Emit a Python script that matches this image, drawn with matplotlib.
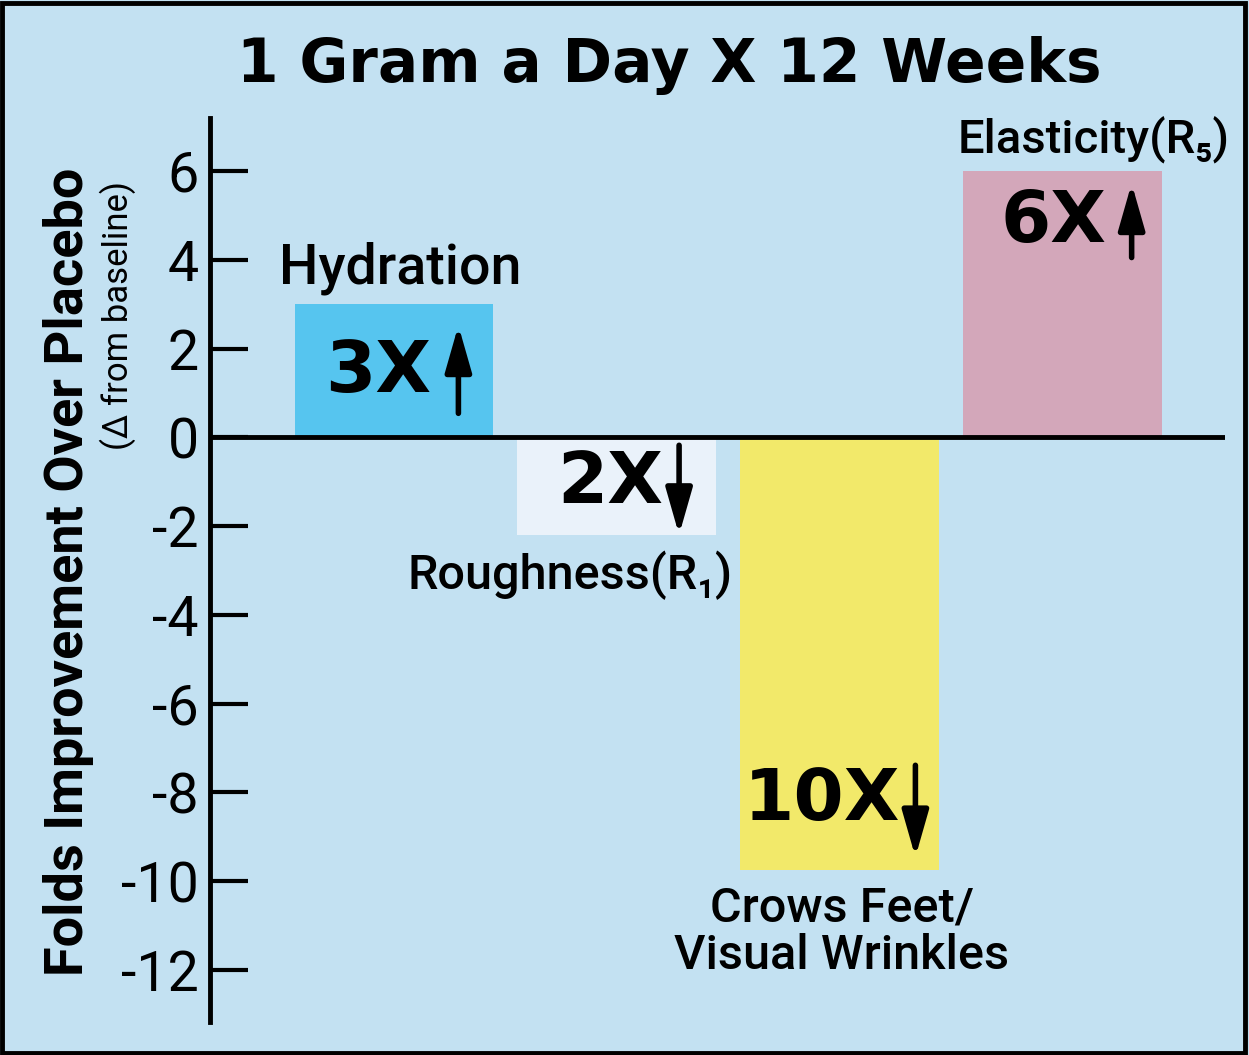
import matplotlib.pyplot as plt
from matplotlib.patches import Rectangle

# bar values
categories = ['Hydration', 'Roughness(R\u2081)', 'Crows Feet/\nVisual Wrinkles', 'Elasticity(R\u2085)']
values = [3.0, -2.2, -9.75, 6.0]
fold_labels = ['3X', '2X', '10X', '6X']
bar_colors = ['#56c5ef', '#eaf2fa', '#f2e96a', '#d3a7ba']
yticks = [6, 4, 2, 0, -2, -4, -6, -8, -10, -12]

# label placement (data coords)
fold_pos = [(-0.07, 1.46), (0.97, -1.04), (1.92, -8.18), (2.96, 4.84)]
arrow_x = [0.29, 1.28, 2.34, 3.31]
arrow_y = [(0.54, 2.52), (-0.18, -2.2), (-7.39, -9.46), (4.05, 5.72)]
cat_pos = [(0.03, 3.8), (0.79, -3.1), (2.01, -11.15), (3.14, 6.7)]
cat_sizes = [40, 35, 35, 34]

bg = '#c3e1f2'
plt.rcParams['font.family'] = ['Roboto', 'DejaVu Sans']

fig = plt.figure(figsize=(12.49, 10.55), dpi=100, facecolor=bg)
ax = fig.add_axes([0.168, 0.031, 0.813, 0.857])
ax.set_facecolor(bg)

x = range(len(values))
ax.bar(x, values, width=0.89, color=bar_colors, zorder=2)
ax.axhline(0, color='black', lw=3.5, zorder=3)

for i in x:
    ax.text(fold_pos[i][0], fold_pos[i][1], fold_labels[i], ha='center', va='center',
            fontsize=52, fontweight='bold', family='DejaVu Sans', zorder=4)
    y0, y1 = arrow_y[i]
    ax.annotate('', xy=(arrow_x[i], y1), xytext=(arrow_x[i], y0),
                arrowprops=dict(arrowstyle='-|>,head_length=2.8,head_width=0.8',
                                lw=4, color='black', shrinkA=0, shrinkB=0), zorder=4)
    ax.text(cat_pos[i][0], cat_pos[i][1], categories[i], ha='center', va='center',
            fontsize=cat_sizes[i], fontweight='medium', linespacing=1.05, zorder=4)

ax.set_xlim(-0.825, 3.73)
ax.set_ylim(-13.18, 7.19)
ax.set_xticks([])
ax.set_yticks(yticks)
ax.set_yticklabels([str(t) for t in yticks])
ax.tick_params(axis='y', direction='in', length=27, width=3, pad=8, labelsize=40)
for s in ['top', 'right', 'bottom']:
    ax.spines[s].set_visible(False)
ax.spines['left'].set_linewidth(3.5)

fig.text(0.536, 0.938, '1 Gram a Day X 12 Weeks', ha='center', va='center',
         fontsize=43, fontweight='bold', family='DejaVu Sans')
fig.text(0.055, 0.458, 'Folds Improvement Over Placebo', rotation=90, ha='center', va='center',
         fontsize=39, fontweight='bold')
fig.text(0.094, 0.701, '(\u0394 from baseline)', rotation=90, ha='center', va='center',
         fontsize=25)

fig.patches.append(Rectangle((0.002, 0.002), 0.995, 0.995, transform=fig.transFigure,
                             fill=False, edgecolor='black', lw=3.5))

fig.savefig('out.png', dpi=100, facecolor=bg)
